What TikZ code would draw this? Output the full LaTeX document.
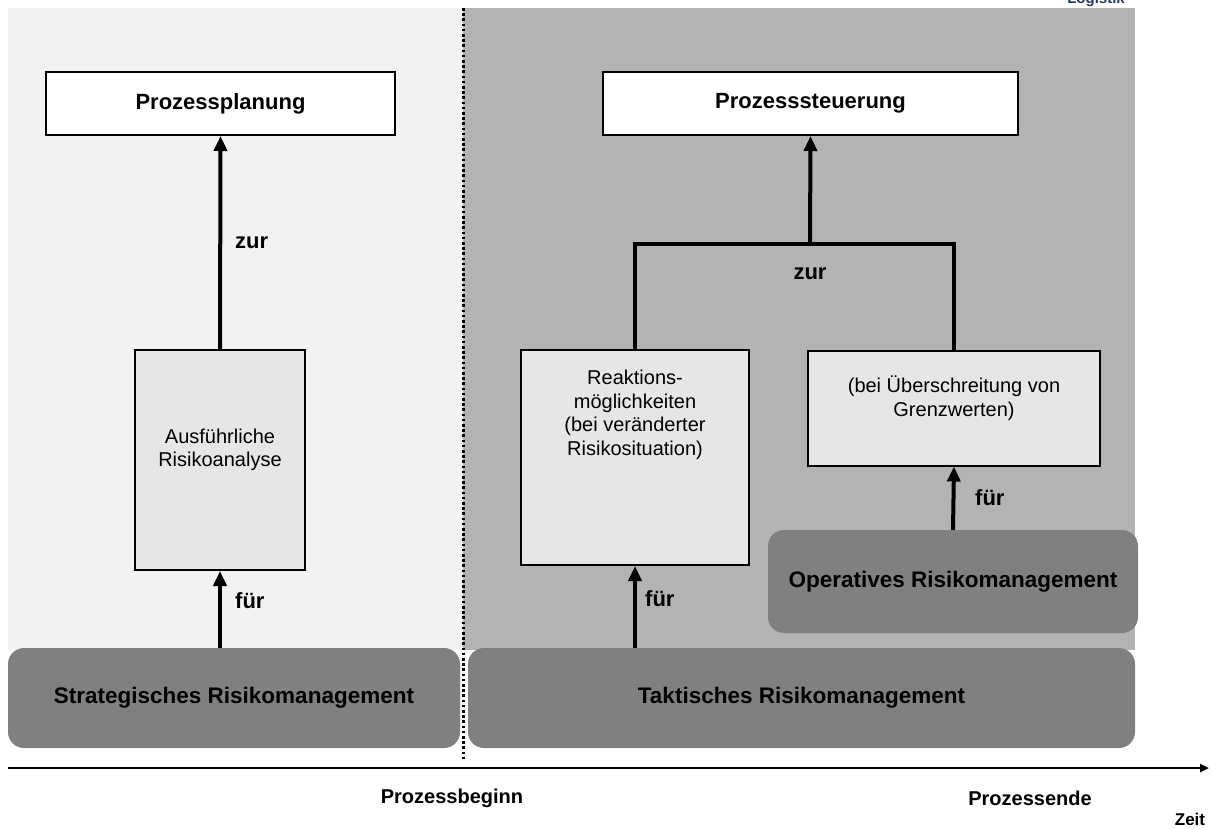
\documentclass[tikz,border=0pt]{standalone}
\usepackage{fontspec}
\setmainfont{Liberation Sans}
\usetikzlibrary{arrows.meta}
\definecolor{panelL}{HTML}{F2F2F2}
\definecolor{panelR}{HTML}{B3B3B3}
\definecolor{dark}{HTML}{808080}
\definecolor{inner}{HTML}{E6E6E6}
\definecolor{navy}{HTML}{1F3864}
\begin{document}
\begin{tikzpicture}[x=1pt,y=-1pt,
  topbox/.style={draw=black,line width=2pt,fill=white,minimum width=#1,minimum height=63pt,inner sep=0pt,font=\fontsize{22}{24}\selectfont\bfseries},
  midbox/.style={draw=black,line width=2pt,fill=inner,inner sep=0pt},
  basebox/.style={fill=dark,rounded corners=16pt,inner sep=0pt,font=\fontsize{22.5}{24}\selectfont\bfseries},
  lab/.style={font=\fontsize{22}{24}\selectfont\bfseries,inner sep=0pt},
  txt/.style={font=\fontsize{20}{23.5}\selectfont,align=center,inner sep=0pt},
  arr/.style={line width=4pt,-{Triangle[length=15pt,width=13pt]}},
  tree/.style={line width=4pt}]
\useasboundingbox (0,0) rectangle (1212,828);
% panels
\fill[panelL] (8,8) rectangle (463,650);
\fill[panelR] (463,8) rectangle (1135,650);
\node[font=\fontsize{15}{18}\selectfont\bfseries,text=navy,anchor=base,inner sep=0pt] (logo) at (1096,3) {Logistik};
% bottom boxes
\node[basebox,minimum width=452pt,minimum height=100pt] (strat) at (234,698) {Strategisches Risikomanagement};
\node[basebox,minimum width=667pt,minimum height=100pt] (takt) at (801.5,698) {Taktisches Risikomanagement};
\node[basebox,minimum width=370pt,minimum height=103pt] (oper) at (953,581.5) {Operatives Risikomanagement};
% dotted separator
\coordinate (d0) at (463,8);
\coordinate (d1) at (463,760);
\draw[line width=3pt,dash pattern=on 2.6pt off 2.6pt] (d0) -- (d1);
% top boxes
\node[topbox=349pt] (plan) at (220.5,103.5) {Prozessplanung};
\node[topbox=415pt] (steu) at (810.5,103.5) {Prozesssteuerung};
% middle boxes
\node[midbox,minimum width=170pt,minimum height=220pt] (ausf) at (220,460) {};
\node[txt] (ausft) at (220,450) {Ausführliche\\Risikoanalyse};
\node[midbox,minimum width=228pt,minimum height=215pt] (reak) at (635,457.5) {};
\node[txt] (reakt) at (635,415) {Reaktions-\\möglichkeiten\\(bei veränderter\\Risikosituation)};
\node[midbox,minimum width=292pt,minimum height=115pt] (grenz) at (954,408) {};
\node[txt] (grenzt) at (954,398) {(bei Überschreitung von\\Grenzwerten)};
% connectors left
\draw[arr] (ausf.north) -- (plan.south);
\node[lab,anchor=west] (zur1) at (235,243) {zur};
\draw[arr] (ausf.south |- strat.north) -- (ausf.south);
\node[lab,anchor=west] (fuer1) at (235,601) {für};
% tree right
\coordinate (j) at (810,244);
\draw[tree] (reak.north) |- (j) -| (grenz.north);
\draw[arr] (j) -- (steu.south);
\node[lab] (zur2) at (810,274) {zur};
\draw[arr] (reak.south |- takt.north) -- (reak.south);
\node[lab,anchor=west] (fuer2) at (645,599) {für};
\draw[arr] (oper.north) -- (grenz.south);
\node[lab,anchor=west] (fuer3) at (975,498) {für};
% time axis
\coordinate (t0) at (8,768);
\coordinate (t1) at (1209,768);
\draw[line width=2.5pt,-{Triangle[length=9pt,width=8pt]}] (t0) -- (t1);
\node[lab,font=\fontsize{20}{24}\selectfont\bfseries] (beg) at (452,798) {Prozessbeginn};
\node[lab,font=\fontsize{20}{24}\selectfont\bfseries] (end) at (1030,798) {Prozessende};
\node[lab,font=\fontsize{17}{20}\selectfont\bfseries] (zeit) at (1190,819) {Zeit};
\end{tikzpicture}
\end{document}
